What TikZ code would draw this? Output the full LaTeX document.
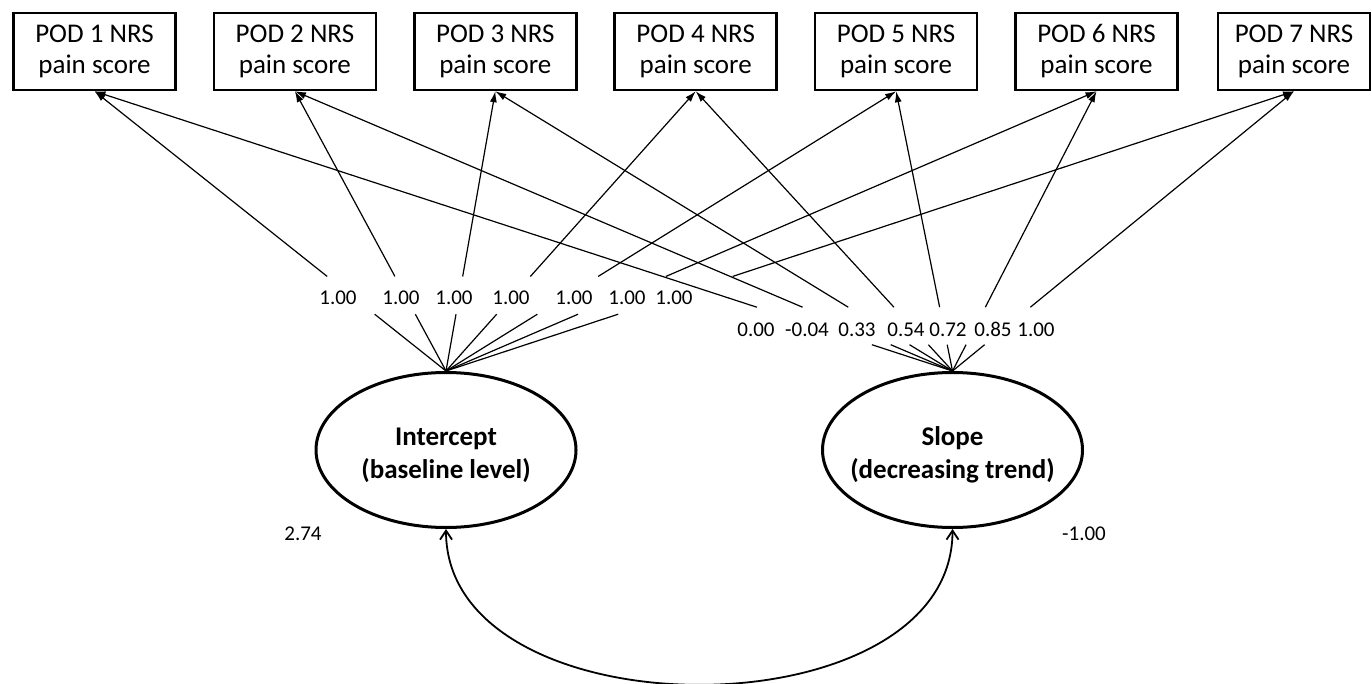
\documentclass[tikz,border=0pt]{standalone}
\usepackage{fontspec}
\setmainfont{Carlito}
\usetikzlibrary{arrows.meta,shapes.geometric,calc}
\begin{document}
\begin{tikzpicture}[x=1pt,y=-1pt,
  podbox/.style={draw,line width=2.5pt,minimum width=162pt,minimum height=77pt,inner sep=0pt,align=center,font=\fontsize{27}{31}\selectfont},
  latent/.style={draw,ellipse,line width=3pt,minimum width=260pt,minimum height=155pt,inner sep=0pt},
  latenttext/.style={align=center,font=\fontsize{27}{33}\selectfont\bfseries},
  wlabel/.style={font=\fontsize{21}{24}\selectfont,inner sep=0pt,anchor=base},
  pathline/.style={line width=1.2pt},
  patharrow/.style={line width=1.2pt,-{Latex[length=11pt,width=7pt]}},
  cov/.style={line width=1.8pt,{Straight Barb[length=9pt,width=12pt]}-{Straight Barb[length=9pt,width=12pt]}}
]
\useasboundingbox (0,0) rectangle (1372,684);
% observed variables
\foreach \i in {1,...,6}
  \node[podbox] (P\i) at ({94.5+200.4*(\i-1)},51.5) {POD \i\ NRS\\pain score};
\node[podbox,minimum width=152pt] (P7) at (1294,51.5) {POD 7 NRS\\pain score};
% latent variables
\node[latent] (I) at (446,450) {};
\node[latenttext] (It) at ([yshift=-5pt]I.center) {Intercept\\(baseline level)};
\node[latent] (S) at (952.5,450) {};
\node[latenttext] (St) at ([yshift=-5pt]S.center) {Slope\\(decreasing trend)};
% loadings
\foreach \i in {1,...,7}{
  \draw[pathline] (I.north) -- ($(I.north)!0.203!(P\i.south)$);
  \draw[patharrow] ($(I.north)!0.338!(P\i.south)$) -- (P\i.south);
  \draw[pathline] (S.north) -- ($(S.north)!0.094!(P\i.south)$);
  \draw[patharrow] ($(S.north)!0.228!(P\i.south)$) -- (P\i.south);
}
\foreach \x [count=\k] in {338,401,454,511,574,627,674}
  \node[wlabel] (a\k) at (\x,305) {1.00};
\foreach \x/\t [count=\k] in {756/0.00,807/-0.04,857/0.33,906/0.54,948/0.72,993/0.85,1036/1.00}
  \node[wlabel] (b\k) at (\x,336) {\t};
% variances
\node[wlabel] (vI) at (303,540) {2.74};
\node[wlabel] (vS) at (1084,540) {-1.00};
% covariance
\draw[cov] (I.south) .. controls +(0,207) and +(0,207) .. (S.south);
\end{tikzpicture}
\end{document}
